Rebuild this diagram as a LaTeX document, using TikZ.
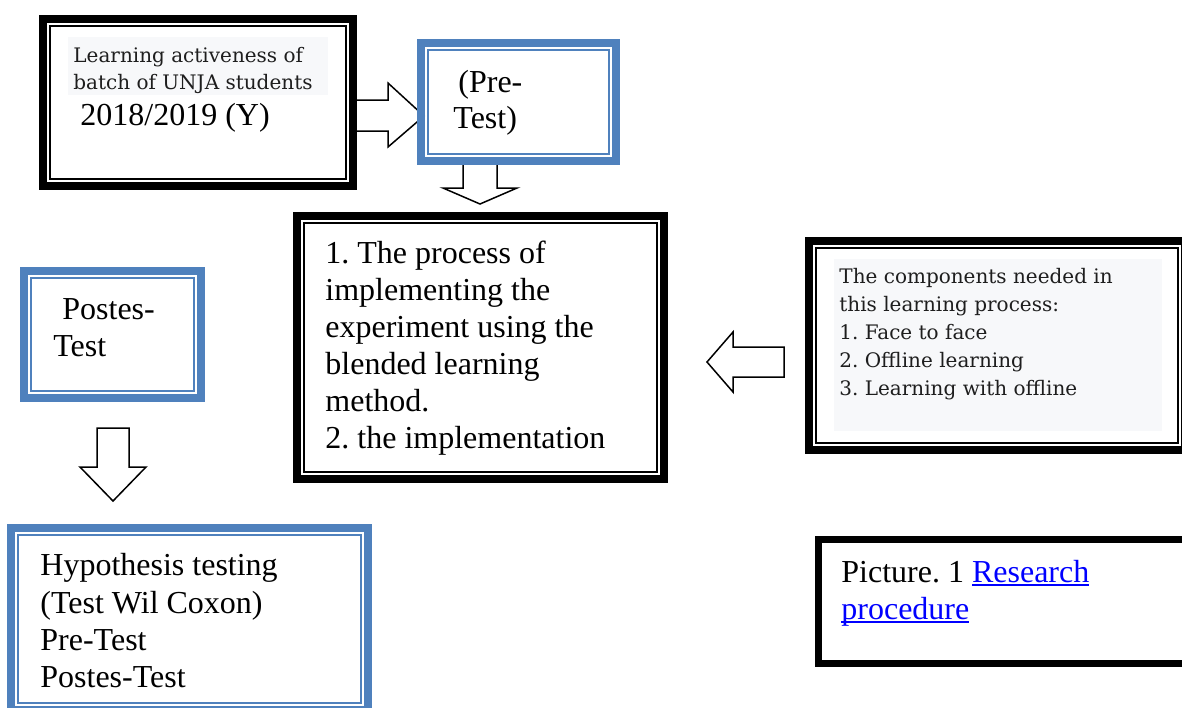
\documentclass[tikz,border=0pt]{standalone}
\usepackage{fontspec}
\setmainfont{Liberation Serif}
\newfontfamily\cambriafont{DejaVu Serif}
\definecolor{wblue}{HTML}{4F81BD}
\definecolor{lgray}{HTML}{F7F8FA}
\definecolor{dtext}{HTML}{1E1E1E}
\definecolor{linkblue}{HTML}{0000FF}
\newcommand\linkul[1]{\setbox0\hbox{#1}\rlap{\rule[-1.8pt]{\wd0}{0.7pt}}\box0}
\newcommand\dframe[2]{%
  \draw[#2, line width=3.75pt] ([xshift=1.875pt,yshift=-1.875pt]#1.north west) rectangle ([xshift=-1.875pt,yshift=1.875pt]#1.south east);
  \draw[#2, line width=1pt] ([xshift=5.5pt,yshift=-5.5pt]#1.north west) rectangle ([xshift=-5.5pt,yshift=5.5pt]#1.south east);}
\frenchspacing
\begin{document}
\frenchspacing
\begin{tikzpicture}[x=0.5pt,y=-0.5pt,
  frame/.style={rectangle, inner sep=0pt, anchor=north west},
  tnr/.style={anchor=base west, inner sep=0pt, font=\fontsize{16}{18}\selectfont},
  cam/.style={anchor=base west, inner sep=0pt, font=\cambriafont\fontsize{10}{12}\selectfont, text=dtext},
  blockarrow/.style={draw=black, line width=0.75pt, fill=white, line join=miter},
]
\useasboundingbox (0,0) rectangle (1182,707);
\fill[white] (0,0) rectangle (1182,707);

% frame nodes
\node[frame, minimum width=158.5pt, minimum height=87pt] (tl) at (39,15) {};
\node[frame, minimum width=101pt, minimum height=62.5pt] (pre) at (417,39) {};
\node[frame, minimum width=187pt, minimum height=135pt] (mid) at (293,212) {};
\node[frame, minimum width=191.5pt, minimum height=108pt] (comp) at (805,237) {};
\node[frame, minimum width=92pt, minimum height=67pt] (post) at (20,267) {};
\node[frame, minimum width=182pt, minimum height=94.5pt] (hyp) at (7,524) {};
\node[frame, minimum width=187.5pt, minimum height=65pt] (cap) at (815,536) {};

% grey text backgrounds
\fill[lgray] (68,37) rectangle (328,95);
\fill[lgray] (834,259) rectangle (1162,431);

% block arrows
\draw[blockarrow] (352,100) -- (388,100) -- (388,83) -- (424,116) -- (388,147) -- (388,131) -- (352,131) -- cycle;
\draw[blockarrow] (463,160) -- (463,188) -- (443,188) -- (480,204) -- (517,188) -- (497,188) -- (497,160) -- cycle;
\draw[blockarrow] (784,347) -- (733,347) -- (733,332) -- (707,362) -- (733,392) -- (733,377) -- (784,377) -- cycle;
\draw[blockarrow] (97,428) -- (97,467) -- (80,467) -- (113,501) -- (146,467) -- (129,467) -- (129,428) -- cycle;

% frames
\dframe{tl}{black}
\dframe{pre}{wblue}
\dframe{mid}{black}
\dframe{comp}{black}
\dframe{post}{wblue}
\dframe{hyp}{wblue}
\draw[black, line width=3.5pt] ([xshift=1.75pt,yshift=-1.75pt]cap.north west) rectangle ([xshift=-1.75pt,yshift=1.75pt]cap.south east);

% texts
\node[cam] (tl1) at (73,62) {Learning activeness of};
\node[cam] (tl2) at (73,89) {batch of UNJA students};
\node[tnr] (tl3) at (80,125) {2018/2019 (Y)};

\node[tnr] (pre1) at (458,92) {(Pre-};
\node[tnr] (pre2) at (453,128) {Test)};

\node[tnr] (mid1) at (325,263) {1. The process of};
\node[tnr] (mid2) at (325,300) {implementing the};
\node[tnr] (mid3) at (325,337) {experiment using the};
\node[tnr] (mid4) at (325,374) {blended learning};
\node[tnr] (mid5) at (325,411) {method.};
\node[tnr] (mid6) at (325,448) {2. the implementation};

\node[cam] (c1) at (839,283) {The components needed in};
\node[cam] (c2) at (839,311) {this learning process:};
\node[cam] (c3) at (839,339) {1. Face to face};
\node[cam] (c4) at (839,367) {2. Offline learning};
\node[cam] (c5) at (839,395) {3. Learning with offline};

\node[tnr] (p1) at (62,319) {Postes-};
\node[tnr] (p2) at (53,356) {Test};

\node[tnr] (h1) at (40,575) {Hypothesis testing};
\node[tnr] (h2) at (40,613) {(Test Wil Coxon)};
\node[tnr] (h3) at (40,650) {Pre-Test};
\node[tnr] (h4) at (40,687) {Postes-Test};

\node[tnr] (cap1) at (841,582) {Picture. 1 \textcolor{linkblue}{\linkul{Research}}};
\node[tnr] (cap2) at (841,619) {\textcolor{linkblue}{\linkul{procedure}}};
\end{tikzpicture}
\end{document}
